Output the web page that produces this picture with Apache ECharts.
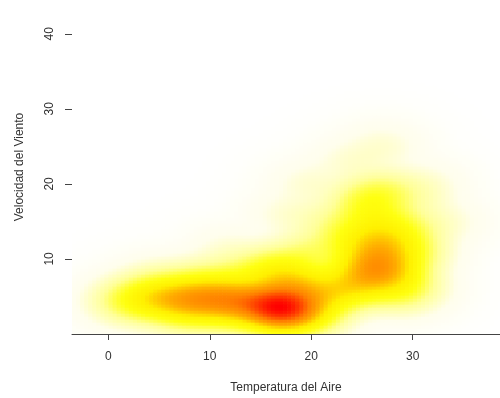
<!DOCTYPE html>
<html><head><meta charset="utf-8">
<script src="https://cdn.jsdelivr.net/npm/echarts@6/dist/echarts.min.js"></script>
<style>html,body{margin:0;padding:0;background:#fff}#c{width:500px;height:398px}</style>
</head><body><div id="c"></div>
<script>
// Estimated observation clusters (temperature °C, wind speed, number of observations)
const temp  = [1.5, 3, 4.5, 6, 7.5, 9, 10.5, 12, 13.5, 15, 16.5, 17.2, 18, 17.5, 17.5,
               5, 9, 12, 15, 17, 19, 20,
               8, 12, 20,
               20, 21.5, 23, 24.5,
               25.5, 27, 28, 26, 27.5, 26.5, 25.5, 27, 29.5, 29.5, 24, 29, 26,
               24, 27, 31, 18, 12, 22, 30, 20, 33];
const wind  = [4.5, 4.5, 5, 4.5, 5, 4.5, 5, 4.5, 4.5, 4, 3.5, 3.5, 3, 5.5, 7.5,
               7, 7, 7.5, 8, 9, 7, 11,
               3, 3, 3,
               5, 5.5, 6, 7,
               9, 9.5, 8, 11.5, 12.5, 15, 17.5, 19, 11, 14, 13, 6, 7,
               23, 25, 20, 16, 11, 15, 18, 20, 15];
const count = [4, 9, 13, 16, 19, 22, 23, 23, 23, 26, 40, 56, 30, 18, 12,
               3, 6, 6, 9, 9, 12, 6,
               9, 9, 12,
               12, 12, 12, 15,
               24, 26, 18, 20, 17, 14, 10, 7, 10, 6, 10, 10, 12,
               1, 1, 1, 1, 1, 3, 2, 1, 1];
const xTicks = [0, 10, 20, 30];
const yTicks = [10, 20, 30, 40];
const xTitle = 'Temperatura del Aire';
const yTitle = 'Velocidad del Viento';

const X_MIN = -3.58, X_MAX = 38.6, Y_MIN = 0, Y_MAX = 44.5;
const BW_X = 2.0, BW_Y = 1.6, STEP = 0.4;

// Kernel density (smoothScatter-style), transformed with x^0.25
const cells = [];
let maxD = 0;
for (let x = X_MIN + STEP / 2; x < X_MAX + STEP; x += STEP) {
  for (let y = Y_MIN + STEP / 2; y < Y_MAX + STEP; y += STEP) {
    let d = 0;
    for (let i = 0; i < temp.length; i++) {
      const dx = (x - temp[i]) / BW_X, dy = (y - wind[i]) / BW_Y;
      d += count[i] * Math.exp(-0.5 * (dx * dx + dy * dy));
    }
    if (d > maxD) maxD = d;
    cells.push([x, y, d]);
  }
}
cells.forEach(c => { c[2] = Math.pow(c[2] / maxD, 0.25); });

// Colour ramp (white -> yellow -> orange -> red)
const rampPos = [0, 0.22, 0.42, 0.57, 0.68, 0.78, 0.86, 0.93, 1];
const rampCol = ['#FFFFFF', '#FFFEEC', '#FFFF98', '#FFFF10', '#FFF000', '#FFAA00', '#FF8000', '#FF4000', '#FF0000'];
const rampList = [];
for (let k = 0; k <= 100; k++) {
  const t = k / 100;
  let j = 0;
  while (j < rampPos.length - 2 && t > rampPos[j + 1]) j++;
  const f = (t - rampPos[j]) / (rampPos[j + 1] - rampPos[j]);
  rampList.push(echarts.color.lerp(f, [rampCol[j], rampCol[j + 1]]));
}

const FONT = 'Liberation Sans, Arial, sans-serif';
const chart = echarts.init(document.getElementById('c'), null, {renderer: 'canvas'});
chart.setOption({
  animation: false,
  backgroundColor: '#ffffff',
  grid: {left: 72, right: 0, top: 0, bottom: 64, containLabel: false, outerBoundsMode: 'none'},
  visualMap: {
    show: false, type: 'continuous', min: 0, max: 1, dimension: 2, seriesIndex: 0,
    inRange: {color: rampList}
  },
  xAxis: {
    type: 'value', min: X_MIN, max: X_MAX,
    name: xTitle, nameLocation: 'middle', nameGap: 48,
    nameTextStyle: {fontSize: 12, color: '#333', fontFamily: FONT},
    axisLine: {show: true, onZero: false, lineStyle: {color: '#444', width: 1}},
    axisTick: {show: true, customValues: xTicks, length: 6, lineStyle: {color: '#444'}},
    axisLabel: {customValues: xTicks, margin: 17, fontSize: 12, color: '#333', fontFamily: FONT},
    splitLine: {show: false}
  },
  yAxis: {
    type: 'value', min: Y_MIN, max: Y_MAX,
    name: yTitle, nameLocation: 'middle', nameGap: 46,
    nameTextStyle: {fontSize: 12, color: '#333', fontFamily: FONT},
    axisLine: {show: true, onZero: false, lineStyle: {color: 'rgba(0,0,0,0)'}},
    axisTick: {show: true, customValues: yTicks, length: 7, lineStyle: {color: '#444'}},
    axisLabel: {customValues: yTicks, rotate: 90, margin: 16, fontSize: 12, color: '#333', fontFamily: FONT},
    splitLine: {show: false}
  },
  series: [{
    type: 'custom',
    progressive: 0,
    clip: true,
    data: cells,
    encode: {x: 0, y: 1},
    renderItem: function (params, api) {
      const x = api.value(0), y = api.value(1), h = STEP / 2;
      const p0 = api.coord([x - h, y + h]);
      const p1 = api.coord([x + h, y - h]);
      return {
        type: 'rect',
        shape: {x: p0[0], y: p0[1], width: p1[0] - p0[0] + 0.7, height: p1[1] - p0[1] + 0.7},
        style: {fill: api.visual('color')}
      };
    }
  }]
});
</script>
</body></html>
